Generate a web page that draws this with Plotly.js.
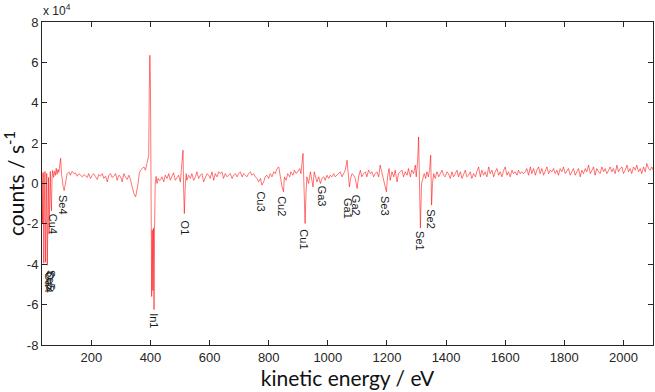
<!DOCTYPE html>
<html>
<head>
<meta charset="utf-8">
<script src="https://cdn.plot.ly/plotly-3.0.1.min.js"></script>
<style>html,body{margin:0;padding:0;background:#fff;}#chart{width:655px;height:392px;}</style>
</head>
<body>
<div id="chart"></div>
<script>
// Kinetic energy (eV) and counts (units of 1e4 counts/s), by region
const lowEnergy = [33,35,37,39,41,43,45,47,49,51,53,55,57,59,61,63,65,67,69,72,75,78,81,84,87,90,93,96,99,102,105,108,111,114];
const lowCounts = [0.5,-2.0,0.55,-3.95,-1.0,0.6,-3.9,-0.9,0.5,-4.05,-1.5,0.3,-2.5,-0.5,0.6,-0.8,-1.35,0.3,0.65,0.3,0.6,0.4,0.75,0.45,0.7,0.55,0.9,1.25,0.5,0.1,-0.2,-0.35,-0.1,0.35];

const midEnergy = [118,124,129,135,141,146,152,158,163,169,175,180,186,191,197,203,208,214,220,225,231,237,242,248,254,259,265,270,276,282,287,293,299,304,310,316,321,327,333,338,344,350,355,358,362,366,372,378,383,387,391,394];
const midCounts = [0.49,0.58,0.41,0.6,0.49,0.52,0.36,0.49,0.41,0.33,0.45,0.36,0.30,0.49,0.25,0.41,0.49,0.33,0.20,0.45,0.36,0.49,0.25,0.36,0.08,0.41,0.49,0.30,0.36,0.49,0.16,0.41,0.33,0.08,0.49,0.30,0.20,0.41,0.16,-0.17,-0.5,-0.66,-0.33,0.0,0.49,0.66,0.74,0.82,0.66,0.99,1.15,1.4];

const inEnergy = [396,398,400,402,404,406,408,410,412,414,416,419,422,426,429];
const inCounts = [4.7,6.35,4.8,1.0,-5.6,-2.3,-5.3,-2.2,-6.25,-2.0,0.0,0.35,0.0,0.25,0.16];

const oCuEnergy = [433,439,445,450,456,462,467,473,478,484,490,495,501,504,508,510,512,514.5,518,521,523,529,535,540,546,552,557,563,569,574,580,586,591,597,602,608,614,619,625,631,636,642,647,653,659,664,670,676,681,687,693,698,704,710,715,721,726,732,738,743,749,755,760,766,772,777,783,788,794,800,805,811,817,822,828,834,839,845,850,853];
const oCuCounts = [0.16,0.33,0.08,0.41,0.25,0.49,0.16,0.36,0.53,0.16,0.33,0.41,0.08,0.49,1.15,1.65,-0.17,-1.49,0.0,0.49,0.16,0.41,0.25,0.49,0.16,0.33,0.58,0.25,0.41,0.49,0.08,0.33,0.49,0.41,0.25,0.58,0.16,0.49,0.33,0.58,0.49,0.58,0.25,0.49,0.33,0.41,0.49,0.25,0.41,0.49,0.33,0.49,0.58,0.33,0.49,0.41,0.33,0.49,0.58,0.41,0.49,0.33,0.25,0.08,0.25,-0.08,0.08,0.33,0.41,0.25,0.49,0.33,0.58,0.49,0.74,0.82,0.33,-0.17,-0.41,0.33];

const cuGaEnergy = [859,864,871,875,882,887,893,898,905,909,913,916,919,923,926,929,935,941,946,950,954,959,963,969,975,980,986,991,997,1003,1008,1014,1020,1025,1031,1036,1042,1048,1053,1059,1065,1068,1073,1077,1082,1087,1093,1099,1104,1110,1115,1121,1127,1132,1138,1144,1149,1155,1160,1166,1172,1177,1183,1189,1193,1198,1202,1207,1211,1217,1223,1228,1234,1239,1245];
const cuGaCounts = [0.16,0.49,0.33,0.58,0.41,0.66,0.49,0.58,0.74,0.49,0.99,1.49,0.0,-1.98,-0.5,0.33,0.0,0.58,0.16,-0.17,0.58,0.25,0.08,0.33,0.0,0.25,0.33,0.16,0.41,0.25,0.41,0.33,0.49,0.33,0.41,0.49,0.58,0.33,0.49,0.66,1.15,0.49,-0.17,0.25,0.49,0.41,0.25,-0.25,0.33,0.66,0.33,0.49,0.58,0.33,0.66,0.49,0.58,0.33,0.49,0.58,0.33,0.91,0.49,0.16,-0.17,-0.41,0.33,0.74,0.16,0.58,0.33,0.66,0.08,0.49,0.58];

const seEnergy = [1251,1256,1262,1268,1273,1279,1284,1290,1296,1299,1304,1307,1310,1313,1317,1322,1326,1331,1335,1340,1344,1348,1351,1354,1358,1363,1369,1375,1380,1386,1392,1397,1403,1408,1414,1420,1425,1431,1437,1442,1448,1454,1459,1465,1470,1476,1482,1487,1493,1499,1504,1510,1516,1521,1527,1532,1538,1544,1549,1555,1561,1566,1572,1578,1583,1589,1595,1600,1606,1611,1617,1623,1628,1634,1640,1645,1651,1656,1662];
const seCounts = [0.66,0.33,0.58,0.41,0.74,0.33,0.66,0.49,0.91,0.33,1.15,2.31,-1.16,-2.2,0.0,0.33,0.49,0.25,0.58,0.33,0.66,1.4,-1.07,0.0,0.49,0.25,0.58,0.33,0.49,0.66,0.41,0.33,0.58,0.49,0.25,0.58,0.33,0.49,0.66,0.33,0.58,0.25,0.49,0.66,0.33,0.41,0.58,0.25,0.49,0.33,0.58,0.82,0.33,0.66,0.41,0.58,0.33,0.82,0.49,0.66,0.33,0.58,0.74,0.41,0.58,0.33,0.66,0.82,0.41,0.58,0.33,0.66,0.49,0.58,0.41,0.66,0.49,0.58,0.49];

const highEnergy = [1668,1673,1679,1685,1690,1696,1702,1707,1713,1718,1724,1730,1735,1741,1747,1752,1758,1764,1769,1775,1780,1786,1792,1797,1803,1809,1814,1820,1826,1831,1837,1842,1848,1854,1859,1865,1871,1876,1882,1888,1893,1899,1904,1910,1916,1921,1927,1933,1938,1944,1950,1955,1961,1966,1972,1978,1983,1989,1995,2000,2006,2012,2017,2023,2028,2034,2040,2045,2051,2057,2062,2068,2074,2079,2085,2090,2096,2100];
const highCounts = [0.58,0.74,0.41,0.82,0.49,0.74,0.41,0.66,0.82,0.49,0.74,0.41,0.58,0.82,0.49,0.66,0.58,0.74,0.49,0.66,0.41,0.74,0.58,0.82,0.49,0.66,0.74,0.41,0.58,0.74,0.41,0.58,0.74,0.33,0.66,0.49,0.74,0.58,0.91,0.49,0.66,0.82,0.41,0.74,0.58,0.49,0.82,0.58,0.74,0.49,0.66,0.82,0.58,0.74,0.49,0.91,0.58,0.74,0.82,0.49,0.66,0.91,0.58,0.74,0.49,0.82,0.66,0.91,0.58,0.74,0.49,0.82,0.58,0.99,0.74,0.66,0.82,0.66];

// Peak labels
const peakNames = ["Ga4","Cu5","Se5","Cu4","Se4","In1","O1","Cu3","Cu2","Cu1","Ga3","Ga1","Ga2","Se3","Se1","Se2"];
const peakEnergy = [56,58,64,70,106,412,518,773,845,920,980,1066,1096,1194,1312,1350];
const peakLabelY = [-4.35,-4.3,-4.24,-1.45,-0.5,-6.35,-1.78,-0.33,-0.58,-2.23,-0.08,-0.66,-0.5,-0.58,-2.31,-1.24];

// Axis ticks
const xTicks = [200,400,600,800,1000,1200,1400,1600,1800,2000];
const yTicks = [-8,-6,-4,-2,0,2,4,6,8];
const yTickLabels = ["-8","-6","-4","-2","0","2","4","6","8"];

const energy = [].concat(lowEnergy, midEnergy, inEnergy, oCuEnergy, cuGaEnergy, seEnergy, highEnergy);
const counts = [].concat(lowCounts, midCounts, inCounts, oCuCounts, cuGaCounts, seCounts, highCounts);

const axisColor = '#262626';
const trace = {
  x: energy, y: counts, type: 'scatter', mode: 'lines',
  line: {color: 'rgb(255,0,0)', width: 0.55},
  hoverinfo: 'skip'
};

const annotations = peakNames.map((name, i) => ({
  x: peakEnergy[i], y: peakLabelY[i], xref: 'x', yref: 'y',
  text: name, showarrow: false, textangle: 90,
  xanchor: 'center', yanchor: 'top',
  font: {family: 'Liberation Sans, Arial, sans-serif', size: 11, color: '#1a1a1a'},
  borderpad: 0
}));
annotations.push({
  xref: 'paper', yref: 'paper', x: 0, y: 1, xanchor: 'left', yanchor: 'bottom',
  text: 'x 10<sup>4</sup>', showarrow: false, yshift: 2, xshift: -1,
  font: {family: 'Liberation Sans, Arial, sans-serif', size: 12, color: axisColor}
});

const layout = {
  width: 655, height: 392,
  margin: {l: 42, r: 2, t: 22, b: 47},
  paper_bgcolor: '#fff', plot_bgcolor: '#fff',
  showlegend: false,
  font: {family: 'Liberation Sans, Arial, sans-serif', size: 13, color: axisColor},
  xaxis: {
    range: [33, 2100], tickvals: xTicks, ticks: 'inside', ticklen: 5, tickcolor: axisColor,
    showline: true, linecolor: axisColor, linewidth: 1, mirror: 'ticks',
    showgrid: false, zeroline: false,
    title: {text: 'kinetic energy / eV', font: {family: 'Lato, sans-serif', size: 21, color: '#111'}, standoff: 2}
  },
  yaxis: {
    range: [-8, 8], tickvals: yTicks, ticktext: yTickLabels, ticks: 'inside', ticklen: 5, tickcolor: axisColor,
    showline: true, linecolor: axisColor, linewidth: 1, mirror: 'ticks',
    showgrid: false, zeroline: false,
    title: {text: 'counts / s<sup>-1</sup>', font: {family: 'Lato, sans-serif', size: 21, color: '#111'}, standoff: 8}
  },
  annotations: annotations
};

Plotly.newPlot('chart', [trace], layout, {staticPlot: true, displayModeBar: false});
</script>
</body>
</html>
